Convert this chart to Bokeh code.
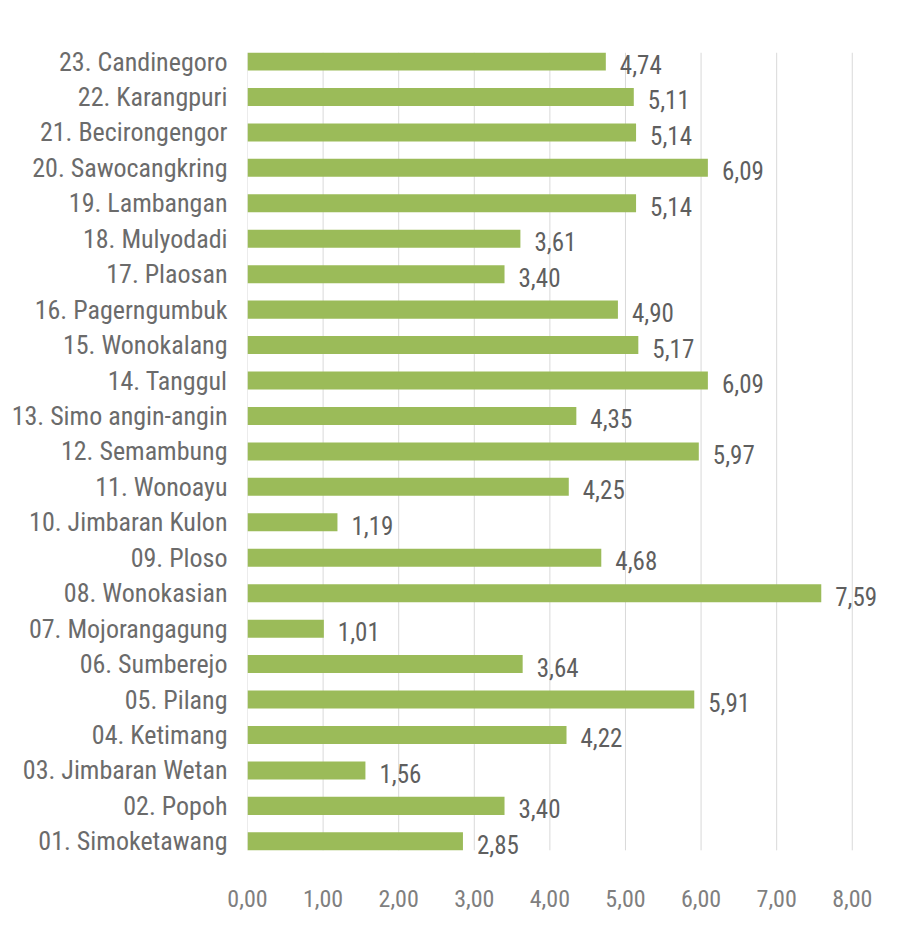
from bokeh.plotting import figure
from bokeh.models import Range1d, FixedTicker, CustomJSTickFormatter, ColumnDataSource
from bokeh.core.properties import value
from bokeh.embed import file_html
from bokeh.resources import INLINE

villages = [
    "01. Simoketawang", "02. Popoh", "03. Jimbaran Wetan", "04. Ketimang",
    "05. Pilang", "06. Sumberejo", "07. Mojorangagung", "08. Wonokasian",
    "09. Ploso", "10. Jimbaran Kulon", "11. Wonoayu", "12. Semambung",
    "13. Simo angin-angin", "14. Tanggul", "15. Wonokalang", "16. Pagerngumbuk",
    "17. Plaosan", "18. Mulyodadi", "19. Lambangan", "20. Sawocangkring",
    "21. Becirongengor", "22. Karangpuri", "23. Candinegoro",
]
values = [2.85, 3.40, 1.56, 4.22, 5.91, 3.64, 1.01, 7.59, 4.68, 1.19, 4.25, 5.97,
          4.35, 6.09, 5.17, 4.90, 3.40, 3.61, 5.14, 6.09, 5.14, 5.11, 4.74]
x_ticks = [0, 1, 2, 3, 4, 5, 6, 7, 8]

FONT = "Roboto Condensed"
BAR_H = 0.508
n = len(villages)
positions = list(range(n))
labels = [f"{v:.2f}".replace(".", ",") for v in values]
src = ColumnDataSource(dict(y=positions, v=values, lab=labels))

y_lo = -BAR_H / 2
y_hi = n - 1 + BAR_H / 2

p = figure(frame_width=635, frame_height=812, output_backend="svg", toolbar_location=None,
           x_range=Range1d(0, 8.4), y_range=Range1d(y_lo - 0.4, y_hi),
           min_border_left=249, min_border_right=0, min_border_top=52,
           min_border_bottom=66,
           styles={"border-left": "1px solid #d9d9d9", "margin-left": "-3px"})
p.outline_line_color = None
p.background_fill_color = "white"
p.border_fill_color = "white"
p.grid.grid_line_color = None

# vertical gridlines spanning only the bar area
p.segment(x0=x_ticks, x1=x_ticks, y0=[y_lo] * len(x_ticks), y1=[y_hi] * len(x_ticks),
          line_color="#d9d9d9", line_width=1)

p.hbar(y="y", right="v", left=0, height=BAR_H, source=src,
       fill_color="#9BBB59", line_color=None)
p.text(x="v", y="y", text="lab", source=src, x_offset=14, y_offset=3,
       text_font=value(FONT), text_font_size="25px", text_color="#5f5f5f",
       text_baseline="middle", text_align="left")

p.xaxis.ticker = FixedTicker(ticks=x_ticks)
p.xaxis.formatter = CustomJSTickFormatter(code="return tick.toFixed(2).replace('.', ',');")
p.xaxis.axis_line_color = None
p.xaxis.major_tick_line_color = None
p.xaxis.minor_tick_line_color = None
p.xaxis.major_tick_out = 0
p.xaxis.major_label_standoff = 25
p.xaxis.major_label_text_font = FONT
p.xaxis.major_label_text_font_size = "24px"
p.xaxis.major_label_text_color = "#7f7f7f"

p.yaxis.ticker = FixedTicker(ticks=positions)
p.yaxis.major_label_overrides = {i: name for i, name in enumerate(villages)}
p.yaxis.axis_line_color = None
p.yaxis.major_tick_line_color = None
p.yaxis.minor_tick_line_color = None
p.yaxis.major_tick_out = 0
p.yaxis.major_label_standoff = 20
p.yaxis.major_label_text_font = FONT
p.yaxis.major_label_text_font_size = "26px"
p.yaxis.major_label_text_color = "#6b6b6b"

open("out.html", "w").write(file_html(p, INLINE))
